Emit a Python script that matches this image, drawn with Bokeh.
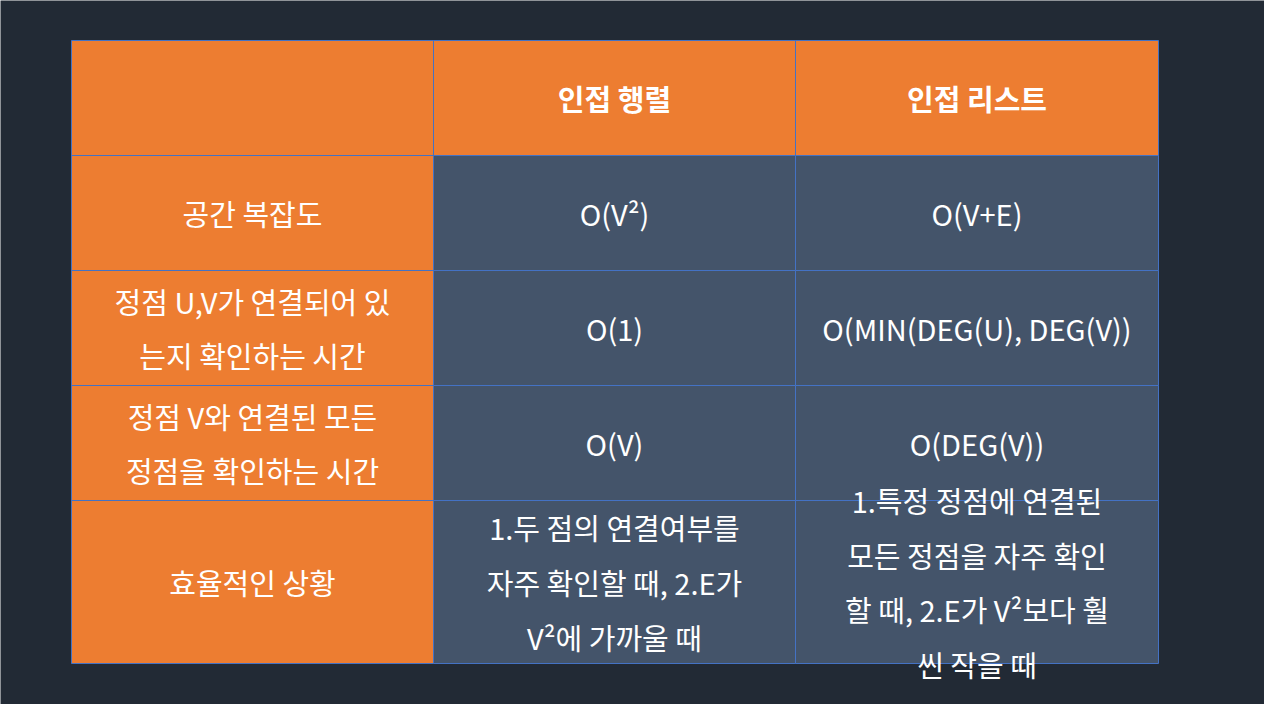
from bokeh.plotting import figure
from bokeh.models import ColumnDataSource, Range1d
from bokeh.core.properties import value
from bokeh.embed import file_html
from bokeh.resources import INLINE

header = ["", "인접 행렬", "인접 리스트"]
row_labels = ["공간 복잡도", "정점 U,V가 연결되어 있\n는지 확인하는 시간",
              "정점 V와 연결된 모든\n정점을 확인하는 시간", "효율적인 상황"]
matrix_col = ["O(V²)", "O(1)", "O(V)",
              "1.두 점의 연결여부를\n자주 확인할 때, 2.E가\nV²에 가까울 때"]
list_col = ["O(V+E)", "O(MIN(DEG(U), DEG(V))", "O(DEG(V))",
            "1.특정 정점에 연결된\n모든 정점을 자주 확인\n할 때, 2.E가 V²보다 훨\n씬 작을 때"]

# layout (pixel coordinates of the page)
col_edges = [79, 441, 803, 1166]
row_edges = [48, 163, 278, 393, 508, 671]
ORANGE, SLATE, BORDER, BG = "#ED7D31", "#44546A", "#4472C4", "#222A35"

xs, ys, ws, hs, fills, texts, bold = [], [], [], [], [], [], []
rows = [header] + [[row_labels[i], matrix_col[i], list_col[i]] for i in range(4)]
for r, row in enumerate(rows):
    for c, t in enumerate(row):
        xs.append((col_edges[c] + col_edges[c + 1]) / 2)
        ys.append((row_edges[r] + row_edges[r + 1]) / 2)
        ws.append(col_edges[c + 1] - col_edges[c])
        hs.append(row_edges[r + 1] - row_edges[r])
        fills.append(ORANGE if (r == 0 or c == 0) else SLATE)
        texts.append(t)
        bold.append("bold" if r == 0 else "normal")

src = ColumnDataSource(dict(x=xs, y=ys, w=ws, h=hs, fill=fills, text=texts, style=bold))

p = figure(width=1264, height=704, output_backend="svg", toolbar_location=None,
           x_range=Range1d(8, 1272), y_range=Range1d(712, 8), min_border=0,
           background_fill_color=BG, border_fill_color=BG, outline_line_color=None)
p.axis.visible = False
p.grid.visible = False
p.rect("x", "y", "w", "h", source=src, fill_color="fill", line_color=BORDER, line_width=1)
p.text("x", "y", text="text", source=src, text_color="white", text_align="center",
       text_baseline="middle", text_font=value("Noto Sans CJK KR"), text_font_size="29px",
       text_font_style="style", text_line_height=1.3)

open("out.html", "w").write(file_html(p, INLINE))
